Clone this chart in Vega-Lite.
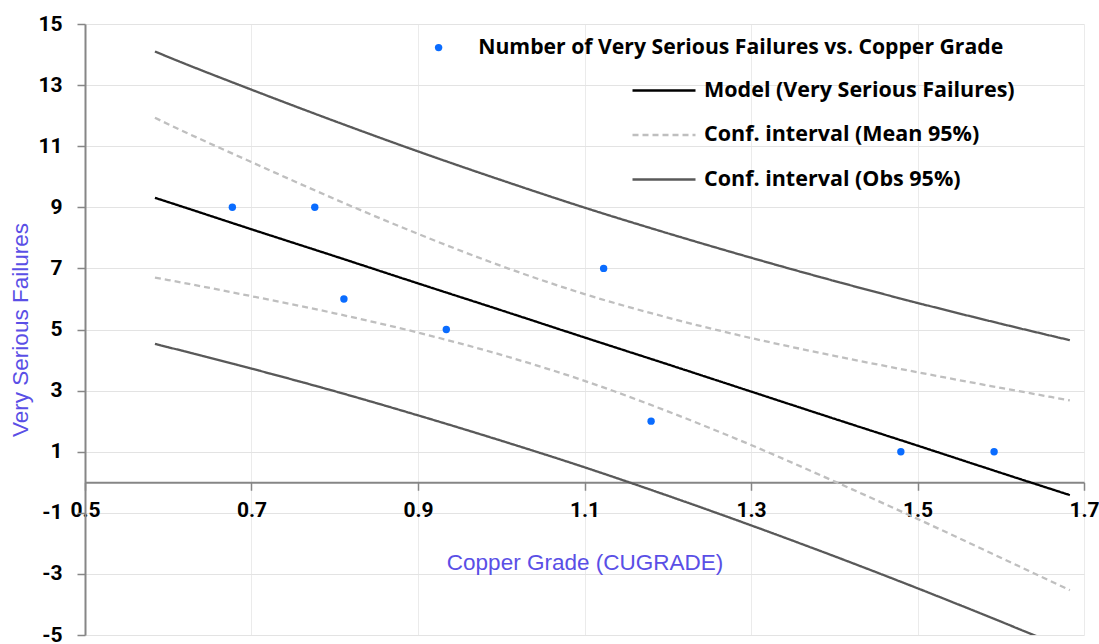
{
  "$schema": "https://vega.github.io/schema/vega-lite/v6.json",
  "width": 999,
  "height": 611,
  "autosize": {"type": "none"},
  "padding": {"left": 85, "top": 24, "right": 15, "bottom": 9},
  "background": "white",
  "config": {"view": {"stroke": null}, "font": "Roboto"},
  "datasets": {
    "points": [
      {"x": 0.677, "y": 9},
      {"x": 0.776, "y": 9},
      {"x": 0.811, "y": 6},
      {"x": 0.934, "y": 5},
      {"x": 1.123, "y": 7},
      {"x": 1.180, "y": 2},
      {"x": 1.480, "y": 1},
      {"x": 1.592, "y": 1}
    ],
    "curves": [
      {"x": 0.584, "model": 9.31, "meanHi": 11.93, "meanLo": 6.70, "obsHi": 14.10, "obsLo": 4.53},
      {"x": 0.6, "model": 9.17, "meanHi": 11.72, "meanLo": 6.62, "obsHi": 13.92, "obsLo": 4.42},
      {"x": 0.7, "model": 8.28, "meanHi": 10.48, "meanLo": 6.09, "obsHi": 12.85, "obsLo": 3.72},
      {"x": 0.8, "model": 7.40, "meanHi": 9.27, "meanLo": 5.53, "obsHi": 11.82, "obsLo": 2.98},
      {"x": 0.9, "model": 6.51, "meanHi": 8.13, "meanLo": 4.90, "obsHi": 10.83, "obsLo": 2.19},
      {"x": 1.0, "model": 5.63, "meanHi": 7.08, "meanLo": 4.17, "obsHi": 9.89, "obsLo": 1.36},
      {"x": 1.1, "model": 4.74, "meanHi": 6.16, "meanLo": 3.32, "obsHi": 8.99, "obsLo": 0.49},
      {"x": 1.2, "model": 3.86, "meanHi": 5.39, "meanLo": 2.32, "obsHi": 8.15, "obsLo": -0.44},
      {"x": 1.3, "model": 2.97, "meanHi": 4.72, "meanLo": 1.22, "obsHi": 7.35, "obsLo": -1.41},
      {"x": 1.4, "model": 2.08, "meanHi": 4.14, "meanLo": 0.03, "obsHi": 6.59, "obsLo": -2.42},
      {"x": 1.5, "model": 1.20, "meanHi": 3.60, "meanLo": -1.20, "obsHi": 5.87, "obsLo": -3.47},
      {"x": 1.6, "model": 0.31, "meanHi": 3.09, "meanLo": -2.47, "obsHi": 5.19, "obsLo": -4.56},
      {"x": 1.683, "model": -0.42, "meanHi": 2.68, "meanLo": -3.53, "obsHi": 4.65, "obsLo": -5.49}
    ],
    "seriesNames": [
      {"line": "model", "series": "Model (Very Serious Failures)"},
      {"line": "meanHi", "series": "Conf. interval (Mean 95%)"},
      {"line": "meanLo", "series": "Conf. interval (Mean 95%)"},
      {"line": "obsHi", "series": "Conf. interval (Obs 95%)"},
      {"line": "obsLo", "series": "Conf. interval (Obs 95%)"}
    ]
  },
  "layer": [
    {
      "data": {"name": "curves"},
      "transform": [
        {"fold": ["obsHi", "obsLo", "meanHi", "meanLo", "model"], "as": ["line", "y"]},
        {"lookup": "line", "from": {"data": {"name": "seriesNames"}, "key": "line", "fields": ["series"]}}
      ],
      "mark": {"type": "line", "strokeWidth": 2.3, "clip": true, "interpolate": "monotone"},
      "encoding": {
        "x": {
          "field": "x", "type": "quantitative",
          "scale": {"domain": [0.5, 1.7], "nice": false, "zero": false},
          "axis": {
            "title": "Copper Grade (CUGRADE)",
            "offset": -152.75,
            "values": [0.5, 0.7, 0.9, 1.1, 1.3, 1.5, 1.7],
            "format": ".1f",
            "labelFont": "Roboto", "labelFontSize": 21, "labelFontWeight": "bold", "labelColor": "black",
            "labelFlush": false, "labelOverlap": false, "labelBound": false, "labelPadding": 9,
            "tickSize": 8, "tickColor": "#868686", "tickWidth": 1.5,
            "domainColor": "#868686", "domainWidth": 2,
            "grid": true, "gridColor": "#ebebeb", "gridWidth": 1,
            "titleFont": "Liberation Sans", "titleFontSize": 22.5, "titleFontWeight": "normal", "titleColor": "#5a4fe6",
            "titleX": 499.5, "titleY": 87.5, "titleBaseline": "alphabetic", "titleAlign": "center"
          }
        },
        "y": {
          "field": "y", "type": "quantitative",
          "scale": {"domain": [-5, 15], "nice": false, "zero": false},
          "axis": {
            "title": "Very Serious Failures",
            "values": [-5, -3, -1, 1, 3, 5, 7, 9, 11, 13, 15],
            "labelExpr": "replace(datum.label, '\u2212', '-')",
            "labelFont": "Roboto", "labelFontSize": 21, "labelFontWeight": "bold", "labelColor": "black",
            "labelFlush": false, "labelOverlap": false, "labelBound": false, "labelPadding": 15,
            "tickSize": 8, "tickColor": "#868686", "tickWidth": 1.5,
            "domainColor": "#868686", "domainWidth": 2,
            "grid": true, "gridColor": "#e3e3e3", "gridWidth": 1,
            "titleFont": "Liberation Sans", "titleFontSize": 22.5, "titleFontWeight": "normal", "titleColor": "#5a4fe6",
            "titleX": -58, "titleY": 305.5, "titleAngle": -90, "titleBaseline": "alphabetic", "titleAlign": "center"
          }
        },
        "color": {
          "field": "series", "type": "nominal",
          "scale": {
            "domain": ["Model (Very Serious Failures)", "Conf. interval (Mean 95%)", "Conf. interval (Obs 95%)"],
            "range": ["#000000", "#bfbfbf", "#595959"]
          },
          "legend": {
            "title": null, "orient": "none", "legendX": 546, "legendY": 56,
            "symbolType": "stroke", "symbolSize": 3969, "symbolStrokeWidth": 2.3,
            "labelFont": "Open Sans", "labelFontSize": 21.5, "labelFontWeight": "bold", "labelColor": "black",
            "labelOffset": 7, "rowPadding": 22.5, "clipHeight": 21, "labelLimit": 600, "padding": 0
          }
        },
        "strokeDash": {
          "field": "series", "type": "nominal",
          "scale": {
            "domain": ["Model (Very Serious Failures)", "Conf. interval (Mean 95%)", "Conf. interval (Obs 95%)"],
            "range": [[1, 0], [6, 4], [1, 0]]
          },
          "legend": {
            "title": null, "orient": "none", "legendX": 546, "legendY": 56,
            "symbolType": "stroke", "symbolSize": 3969, "symbolStrokeWidth": 2.3,
            "labelFont": "Open Sans", "labelFontSize": 21.5, "labelFontWeight": "bold", "labelColor": "black",
            "labelOffset": 7, "rowPadding": 22.5, "clipHeight": 21, "labelLimit": 600, "padding": 0
          }
        },
        "detail": {"field": "line", "type": "nominal"}
      }
    },
    {
      "data": {"name": "points"},
      "mark": {"type": "circle", "size": 55, "opacity": 1},
      "encoding": {
        "x": {"field": "x", "type": "quantitative"},
        "y": {"field": "y", "type": "quantitative"},
        "fill": {
          "datum": "Number of Very Serious Failures vs. Copper Grade", "type": "nominal",
          "scale": {"range": ["#0a6cff"]},
          "legend": {
            "title": null, "orient": "none", "legendX": 343, "legendY": 13,
            "symbolType": "circle", "symbolSize": 55, "symbolStrokeWidth": 0,
            "labelFont": "Open Sans", "labelFontSize": 21.2, "labelFontWeight": "bold", "labelColor": "black",
            "labelOffset": 29, "labelLimit": 700, "padding": 0
          }
        }
      }
    }
  ]
}
